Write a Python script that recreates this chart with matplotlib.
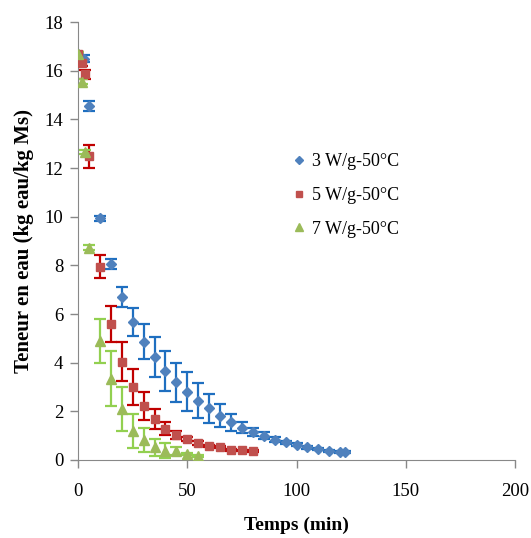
import numpy as np
import matplotlib
matplotlib.use('Agg')
import matplotlib.pyplot as plt

plt.rcParams['font.family'] = ['Liberation Serif', 'DejaVu Serif']

# drying curves
blue_t = [0, 2.5, 5, 10, 15, 20, 25, 30, 35, 40, 45, 50, 55, 60, 65, 70, 75, 80, 85, 90,
          95, 100, 105, 110, 115, 120, 122]
blue_y = [16.7, 16.5, 14.55, 9.93, 8.05, 6.7, 5.67, 4.86, 4.23, 3.66, 3.19, 2.81, 2.44, 2.12,
          1.82, 1.55, 1.33, 1.15, 0.99, 0.84, 0.73, 0.63, 0.52, 0.45, 0.38, 0.33, 0.32]
blue_err = [0.05, 0.15, 0.2, 0.1, 0.2, 0.43, 0.58, 0.72, 0.81, 0.83, 0.81, 0.79, 0.72, 0.6,
            0.47, 0.34, 0.24, 0.17, 0.14, 0.1, 0.06, 0.05, 0.05, 0.04, 0.04, 0.04, 0.03]

red_t = [0, 2, 3, 5, 10, 15, 20, 25, 30, 35, 40, 45, 50, 55, 60, 65, 70, 75, 80]
red_y = [16.7, 16.3, 15.85, 12.48, 7.94, 5.57, 4.04, 3.01, 2.23, 1.68, 1.29, 1.03, 0.86,
         0.71, 0.59, 0.52, 0.42, 0.40, 0.37]
red_err = [0.05, 0.1, 0.2, 0.46, 0.48, 0.74, 0.81, 0.75, 0.57, 0.41, 0.27, 0.18, 0.1, 0.08,
           0.04, 0.04, 0.03, 0.03, 0.03]

green_t = [0, 2, 3, 5, 10, 15, 20, 25, 30, 35, 40, 45, 50, 55]
green_y = [16.7, 15.55, 12.66, 8.73, 4.9, 3.33, 2.09, 1.19, 0.82, 0.52, 0.38, 0.37, 0.25, 0.18]
green_err = [0.05, 0.1, 0.1, 0.1, 0.9, 1.13, 0.89, 0.68, 0.48, 0.36, 0.31, 0.17, 0.05, 0.04]

labels = ['3 W/g-50°C', '5 W/g-50°C', '7 W/g-50°C']

fig = plt.figure(figsize=(5.31, 5.38), dpi=100)
ax = fig.add_axes([0.147, 0.145, 0.823, 0.814])

series = [
    (blue_t, blue_y, blue_err, '#4F81BD', '#1F6FC0', 'D', 5.2),
    (red_t, red_y, red_err, '#C0504D', '#C00000', 's', 5.5),
    (green_t, green_y, green_err, '#9BBB59', '#92D050', '^', 6.5),
]
handles = []
for (t, y, e, mc, ec, mk, ms), lab in zip(series, labels):
    ax.errorbar(t, y, yerr=e, fmt='none', ecolor=ec, elinewidth=1.6, capsize=4,
                capthick=1.6, zorder=2)
    h, = ax.plot(t, y, linestyle='none', marker=mk, markersize=ms, color=mc,
                 markeredgecolor=mc, label=lab, zorder=3)
    handles.append(h)

ax.set_xlim(0, 200)
ax.set_ylim(0, 18)
ax.set_xticks([0, 50, 100, 150, 200])
ax.set_yticks(np.arange(0, 19, 2))
ax.tick_params(direction='out', length=5.5, width=1, color='#888888', labelsize=13.5, pad=5)
ax.tick_params(axis='x', pad=11)
for s in ['top', 'right']:
    ax.spines[s].set_visible(False)
for s in ['left', 'bottom']:
    ax.spines[s].set_color('#888888')

ax.set_xlabel('Temps (min)', fontsize=14, fontweight='bold', labelpad=12)
ax.set_ylabel('Teneur en eau (kg eau/kg Ms)', fontsize=15, fontweight='bold', labelpad=8)

ax.legend(handles=handles, loc='upper left', bbox_to_anchor=(0.455, 0.737), frameon=False,
          fontsize=13, handlelength=0.7, handletextpad=0.35, labelspacing=0.92,
          markerscale=0.85)

fig.savefig('out.png', dpi=100)
